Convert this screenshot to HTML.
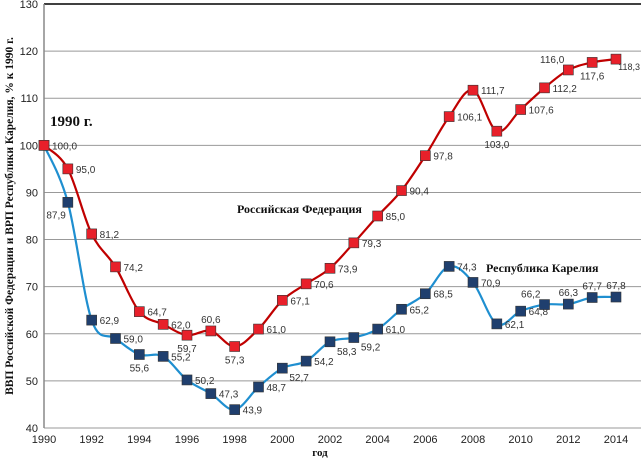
<!DOCTYPE html>
<html><head><meta charset="utf-8"><style>
body{margin:0;background:#fff}
svg{display:block}
.t{font-family:"Liberation Sans",sans-serif;font-size:10px;fill:#333}
.ax{font-family:"Liberation Sans",sans-serif;font-size:11px;fill:#222}
.b{font-family:"Liberation Serif","DejaVu Serif",serif;font-weight:bold;fill:#111}
</style></head><body>
<svg id="c" width="641" height="458" xmlns="http://www.w3.org/2000/svg"></svg>
<script>
const years=[1990,1991,1992,1993,1994,1995,1996,1997,1998,1999,2000,2001,2002,2003,2004,2005,2006,2007,2008,2009,2010,2011,2012,2013,2014];
const russia=[100,95.0,81.2,74.2,64.7,62.0,59.7,60.6,57.3,61.0,67.1,70.6,73.9,79.3,85.0,90.4,97.8,106.1,111.7,103.0,107.6,112.2,116.0,117.6,118.3];
const karelia=[100,87.9,62.9,59.0,55.6,55.2,50.2,47.3,43.9,48.7,52.7,54.2,58.3,59.2,61.0,65.2,68.5,74.3,70.9,62.1,64.8,66.2,66.3,67.7,67.8];
const russiaPos=['r','r','r','r','r','r','b','a','b','r','r','r','r','r','r','r','r','r','r','b','r','r','al','b','rs'];
const kareliaPos=['n','bl','r','r','b','r','r','r','r','r','br','r','br','br','r','r','r','r','r','r','r','al','a','a','a'];
const yTicks=[40,50,60,70,80,90,100,110,120,130];
const xTicks=[1990,1992,1994,1996,1998,2000,2002,2004,2006,2008,2010,2012,2014];
const svg=document.getElementById('c');const NS='http://www.w3.org/2000/svg';
const X=v=>44+(v-1990)*(616-44)/24;
const Y=v=>428-(v-40)*(428-4)/90;
function mk(tag,a,txt){const e=document.createElementNS(NS,tag);for(const k in a)e.setAttribute(k,a[k]);if(txt!=null)e.textContent=txt;svg.appendChild(e);return e;}
yTicks.forEach(v=>{
 const g=mk('line',{x1:44,x2:641,y1:Y(v),y2:Y(v),stroke:v==130?'#000':'#999','stroke-width':v==130?1.5:1});
 
 
 const t=mk('text',{x:38,y:Y(v)+4,'text-anchor':'end',class:'ax'},v);
 
 
});
const ya=mk('line',{x1:44,x2:44,y1:4,y2:428,stroke:'#888','stroke-width':1.5});


xTicks.forEach(v=>{
 const t=mk('text',{x:X(v),y:443,'text-anchor':'middle',class:'ax'},v);
 
 
});
function path(vals){
 const p=vals.map((v,i)=>[X(years[i]),Y(v)]);let d='M'+p[0][0]+','+p[0][1];
 for(let i=0;i<p.length-1;i++){const p0=p[i-1]||p[i],p1=p[i],p2=p[i+1],p3=p[i+2]||p2;const k=0.17;
 d+=` C${p1[0]+(p2[0]-p0[0])*k},${p1[1]+(p2[1]-p0[1])*k} ${p2[0]-(p3[0]-p1[0])*k},${p2[1]-(p3[1]-p1[1])*k} ${p2[0]},${p2[1]}`;}
 return d;}
function series(vals,pos,line,fill,name){
 const l=mk('path',{d:path(vals),fill:'none',stroke:line,'stroke-width':2.2});
 
 
 vals.forEach((v,i)=>{
  const x=X(years[i]),y=Y(v);
  const m=mk('rect',{x:x-5,y:y-5,width:10,height:10,fill:fill,stroke:'#333','stroke-width':0.6});
  
  
  const p=pos[i];if(p=='n')return;
  let tx=x+8,ty=y+4,a='start',fs=null;
  if(p=='rs'){tx=640;ty=y+11;a='end';fs=9;}
  if(p=='b'){tx=x;ty=y+17;a='middle';}
  if(p=='a'){tx=x;ty=y-8;a='middle';}
  if(p=='al'){tx=x-4;ty=y-7;a='end';}
  if(p=='bl'){tx=x-2;ty=y+16;a='end';}
  if(p=='br'){tx=x+7;ty=y+13;}
  const t=mk('text',{x:tx,y:ty,'text-anchor':a,class:'t'},v.toFixed(1).replace('.',','));
  if(fs)t.setAttribute('font-size',fs),t.style.fontSize=fs+'px';
  
  
 });
}
series(karelia,kareliaPos,'#1f8fd0','#1f3f6e','karelia');
series(russia,russiaPos,'#c00000','#e8202a','russia');
const l0=mk('text',{x:50,y:126,class:'b','font-size':15},'1990 г.');


const l1=mk('text',{x:237,y:213,class:'b','font-size':12},'Российская Федерация');


const l2=mk('text',{x:486,y:272,class:'b','font-size':12},'Республика Карелия');


const xt=mk('text',{x:320,y:456,'text-anchor':'middle',class:'b','font-size':11},'год');


const yt=mk('text',{x:0,y:0,transform:'translate(13,216) rotate(-90)','text-anchor':'middle',class:'b','font-size':11.5},'ВВП Российской Федерации и ВРП Республики Карелия, % к 1990 г.');


</script>
</body></html>
